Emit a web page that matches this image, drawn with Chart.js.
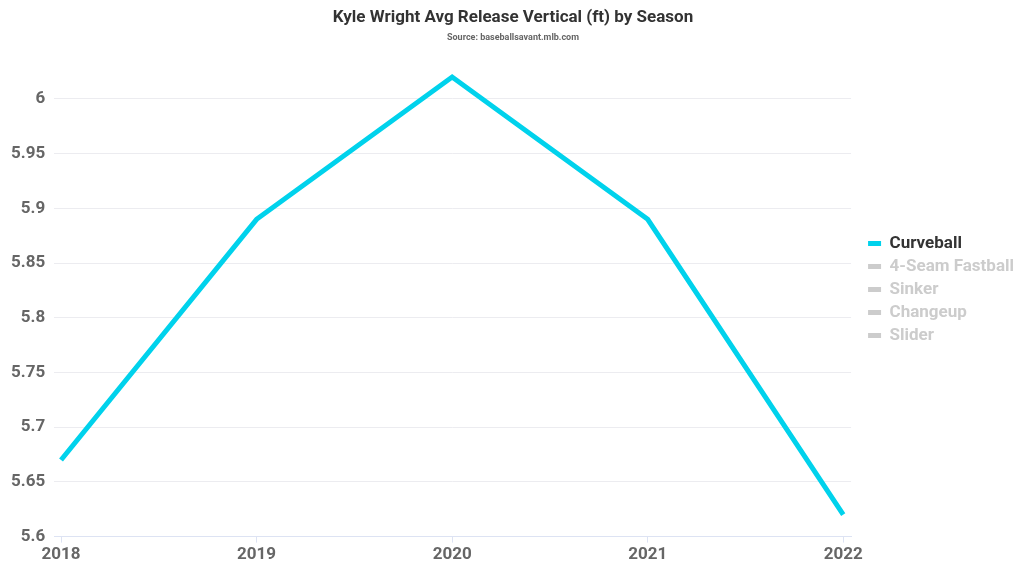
<!DOCTYPE html>
<html>
<head>
<meta charset="utf-8">
<script src="https://cdn.jsdelivr.net/npm/chart.js@4"></script>
<style>
  html, body { margin: 0; padding: 0; background: #fff; }
  #wrap { width: 1024px; height: 576px; }
</style>
</head>
<body>
<div id="wrap"><canvas id="grafico"></canvas></div>
<script>
// datos
var temporadas = [2018, 2019, 2020, 2021, 2022];
var curveball = [5.67, 5.89, 6.02, 5.89, 5.62];
// series ocultas en el original (sin valores visibles)
var fastball4 = [];
var sinker = [];
var changeup = [];
var slider = [];
var nombres = ['Curveball', '4-Seam Fastball', 'Sinker', 'Changeup', 'Slider'];

function puntos(valores) {
  return valores.map((v, i) => ({ x: temporadas[i], y: v }));
}

var fuente = 'Roboto, "DejaVu Sans", sans-serif';
Chart.defaults.font.family = fuente;
Chart.defaults.font.weight = 'bold';

// separar un poco la leyenda del area del grafico
var ajusteLeyenda = {
  id: 'ajusteLeyenda',
  beforeLayout: function(chart) {
    var lg = chart.legend;
    if (lg && !lg._ajustado) {
      var fitOrig = lg.fit;
      lg.fit = function() { fitOrig.call(this); this.width += 11; };
      var drawOrig = lg.draw;
      lg.draw = function() {
        var c = this.ctx;
        c.save();
        c.translate(11, 4);
        drawOrig.apply(this, arguments);
        c.restore();
      };
      lg._ajustado = true;
    }
  }
};

var ctx = document.getElementById('grafico').getContext('2d');
var chart = new Chart(ctx, {
  type: 'line',
  plugins: [ajusteLeyenda],
  data: {
    datasets: [
      { label: nombres[0], data: puntos(curveball), borderColor: '#00d2ec', backgroundColor: '#00d2ec', borderWidth: 5, pointRadius: 0, tension: 0 },
      { label: nombres[1], data: puntos(fastball4), borderColor: '#cccccc', backgroundColor: '#cccccc', pointRadius: 0 },
      { label: nombres[2], data: puntos(sinker), borderColor: '#cccccc', backgroundColor: '#cccccc', pointRadius: 0 },
      { label: nombres[3], data: puntos(changeup), borderColor: '#cccccc', backgroundColor: '#cccccc', pointRadius: 0 },
      { label: nombres[4], data: puntos(slider), borderColor: '#cccccc', backgroundColor: '#cccccc', pointRadius: 0 }
    ]
  },
  options: {
    responsive: true,
    maintainAspectRatio: false,
    animation: false,
    layout: { padding: { top: 4, right: 0, bottom: 9, left: 2 } },
    plugins: {
      title: {
        display: true,
        text: 'Kyle Wright Avg Release Vertical (ft) by Season',
        color: '#333333',
        font: { size: 17, weight: 'bold' },
        padding: { top: 4, bottom: 4 }
      },
      subtitle: {
        display: true,
        text: 'Source: baseballsavant.mlb.com',
        color: '#666666',
        font: { size: 9, weight: 'bold' },
        padding: { bottom: 12 }
      },
      legend: {
        position: 'right',
        labels: {
          boxWidth: 13,
          boxHeight: 5,
          padding: 6,
          font: { size: 17, weight: 'bold' },
          generateLabels: function(chart) {
            return chart.data.datasets.map((ds, i) => ({
              text: ds.label,
              fillStyle: ds.borderColor,
              strokeStyle: ds.borderColor,
              lineWidth: 0,
              hidden: false,
              fontColor: i === 0 ? '#333333' : '#cccccc',
              datasetIndex: i
            }));
          }
        }
      },
      tooltip: { enabled: false }
    },
    scales: {
      x: {
        type: 'linear',
        min: 2017.965,
        max: 2022.04,
        afterBuildTicks: function(axis) {
          axis.ticks = temporadas.map(t => ({ value: t }));
        },
        ticks: {
          color: '#666666',
          font: { size: 17, weight: 'bold' },
          padding: 2,
          callback: function(v) { return String(v); }
        },
        grid: { display: true, drawOnChartArea: false, drawTicks: true, tickLength: 6, color: '#dde3f3' },
        border: { color: '#dde3f3', width: 1 }
      },
      y: {
        min: 5.6,
        max: 6.04,
        afterBuildTicks: function(axis) {
          var t = [];
          for (var k = 0; k <= 8; k++) t.push({ value: +(5.6 + k * 0.05).toFixed(2) });
          axis.ticks = t;
        },
        ticks: {
          color: '#666666',
          font: { size: 17, weight: 'bold' },
          padding: 9,
          callback: function(v) { return String(+v.toFixed(2)); }
        },
        grid: { color: '#ececf0', drawTicks: false },
        border: { display: false }
      }
    }
  }
});
</script>
</body>
</html>
